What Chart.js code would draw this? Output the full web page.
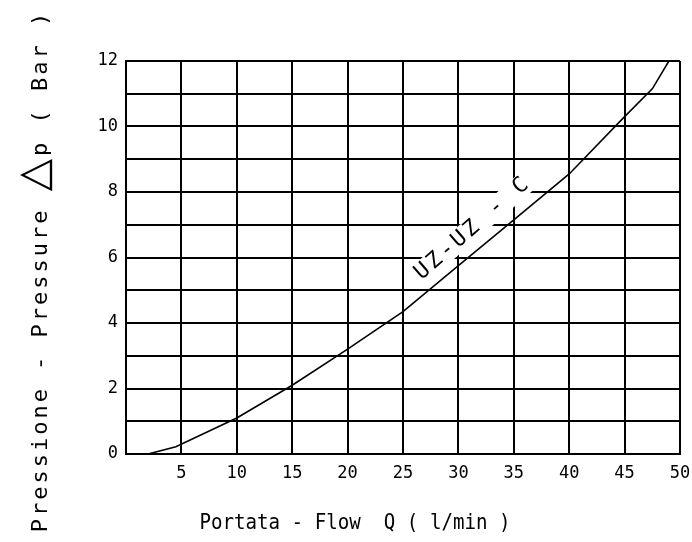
<!DOCTYPE html>
<html>
<head>
<meta charset="utf-8">
<script src="https://cdn.jsdelivr.net/npm/chart.js@4.4.0/dist/chart.umd.min.js"></script>
<style>
  html, body { margin: 0; padding: 0; background: #fff; }
  #wrap { width: 692px; height: 542px; }
</style>
</head>
<body>
<div id="wrap"><canvas id="flowChart"></canvas></div>
<script>
// data
const flowValues = [2, 4.5, 10, 15, 20, 25, 30, 35, 40, 45, 47.5, 49];
const pressureValues = [0, 0.22, 1.1, 2.1, 3.2, 4.35, 5.75, 7.15, 8.55, 10.3, 11.15, 12];
const xTickLabels = [5, 10, 15, 20, 25, 30, 35, 40, 45, 50];
const yTickLabels = [0, 2, 4, 6, 8, 10, 12];
const curveName = 'UZ-UZ - C';
const xTitle = 'Portata - Flow  Q ( l/min )';
const yTitleParts = ['Pressione - Pressure ', '\u25B3', 'p ( Bar )'];

const MONO = '"DejaVu Sans Mono", monospace';
const labelAnchor = { x: 31.3, y: 6.9, angle: -41 };

// curve name, white box under it so grid gets broken like the drawing
const curveLabelPlugin = {
  id: 'curveLabel',
  beforeDatasetsDraw(chart) {
    const { ctx, scales } = chart;
    const px = scales.x.getPixelForValue(labelAnchor.x);
    const py = scales.y.getPixelForValue(labelAnchor.y);
    ctx.save();
    ctx.translate(px, py);
    ctx.rotate(labelAnchor.angle * Math.PI / 180);
    ctx.font = '22px ' + MONO;
    ctx.letterSpacing = '3px';
    const w = ctx.measureText(curveName).width;
    ctx.fillStyle = '#fff';
    ctx.fillRect(-w / 2 - 3, -11, w + 6, 22);
    ctx.fillStyle = '#000';
    ctx.textAlign = 'center';
    ctx.textBaseline = 'middle';
    ctx.fillText(curveName, 0, 0);
    ctx.restore();
  }
};

// axis titles
const titlesPlugin = {
  id: 'axisTitles',
  afterDraw(chart) {
    const { ctx } = chart;
    ctx.save();
    ctx.fillStyle = '#000';
    ctx.textBaseline = 'alphabetic';

    // x title, a bit narrowed like the plotter font
    ctx.save();
    ctx.translate(355, 529);
    ctx.scale(0.87, 1);
    ctx.font = '22px ' + MONO;
    ctx.textAlign = 'center';
    ctx.fillText(xTitle, 0, 0);
    ctx.restore();

    // y title, rotated
    ctx.translate(47, 271);
    ctx.rotate(-Math.PI / 2);
    ctx.textAlign = 'left';
    ctx.letterSpacing = '3px';
    const fonts = ['22px ' + MONO, '42px "DejaVu Sans"', '22px ' + MONO];
    let total = 0;
    const widths = yTitleParts.map((t, i) => {
      ctx.font = fonts[i];
      const w = ctx.measureText(t).width;
      total += w;
      return w;
    });
    let pos = -total / 2;
    yTitleParts.forEach((t, i) => {
      ctx.font = fonts[i];
      ctx.fillText(t, pos, 0);
      pos += widths[i];
    });
    ctx.restore();
  }
};

const ctx = document.getElementById('flowChart').getContext('2d');
const chart = new Chart(ctx, {
  type: 'line',
  data: {
    datasets: [{
      label: curveName,
      data: flowValues.map((q, i) => ({ x: q, y: pressureValues[i] })),
      borderColor: '#000',
      borderWidth: 1.6,
      pointRadius: 0,
      tension: 0,
      fill: false
    }]
  },
  options: {
    responsive: true,
    maintainAspectRatio: false,
    animation: false,
    layout: { padding: { left: 0, right: 12, top: 61, bottom: 0 } },
    scales: {
      x: {
        type: 'linear',
        min: 0,
        max: 50,
        ticks: {
          stepSize: 5,
          color: '#000',
          padding: 9,
          maxRotation: 0,
          font: { family: MONO, size: 17 },
          callback: v => xTickLabels.includes(v) ? String(v) : ''
        },
        grid: { color: '#000', lineWidth: 2, drawTicks: false },
        border: { display: true, color: '#000', width: 2 },
        afterFit(scale) {
          scale.height = 88;
          scale.paddingLeft = 0;
          scale.paddingRight = 0;
        }
      },
      y: {
        type: 'linear',
        min: 0,
        max: 12,
        ticks: {
          stepSize: 1,
          color: '#000',
          padding: 8,
          font: { family: MONO, size: 17 },
          callback: v => yTickLabels.includes(v) ? String(v) : ''
        },
        grid: { color: '#000', lineWidth: 2, drawTicks: false },
        border: { display: true, color: '#000', width: 2 },
        afterFit(scale) { scale.width = 126; }
      }
    },
    plugins: {
      legend: { display: false },
      tooltip: { enabled: false }
    }
  },
  plugins: [curveLabelPlugin, titlesPlugin]
});
</script>
</body>
</html>
